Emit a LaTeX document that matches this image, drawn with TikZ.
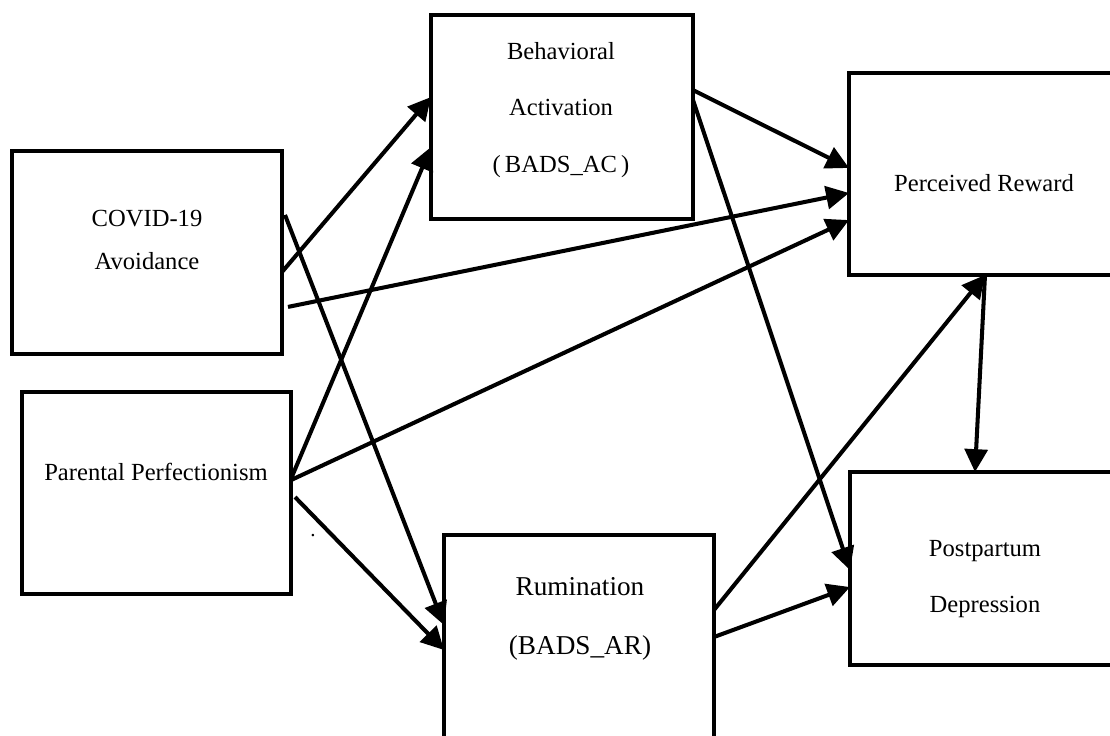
\documentclass[tikz,border=0pt]{standalone}
\usepackage{fontspec}
\setmainfont{Liberation Serif}
\usetikzlibrary{arrows.meta,calc}
\begin{document}
\begin{tikzpicture}[x=0.02cm,y=-0.02cm,
  box/.style={draw,line width=2.7pt,inner sep=0pt,outer sep=0pt,rectangle},
  txt/.style={align=center,inner sep=0pt,font=\fontsize{14}{32}\selectfont},
  arr/.style={-{Triangle[length=13pt,width=13pt]},line width=2.3pt}]
\fill[white] (0,0) rectangle (1110,735);
\useasboundingbox (0,0) rectangle (1110,735);
\clip (0,0) rectangle (1110,735);
% boxes
\node[box,minimum width={270*0.02cm},minimum height={203*0.02cm}] (cov) at (147,252.5) {};
\node[box,minimum width={269*0.02cm},minimum height={202*0.02cm}] (par) at (156.5,493) {};
\node[box,minimum width={262*0.02cm},minimum height={204*0.02cm}] (ba) at (562,117) {};
\node[box,minimum width={272*0.02cm},minimum height={202*0.02cm}] (pr) at (985,174) {};
\node[box,minimum width={270*0.02cm},minimum height={193*0.02cm}] (pd) at (985,568.5) {};
\node[box,minimum width={270*0.02cm},minimum height={210*0.02cm}] (rum) at (579,640) {};
% texts
\node[txt,font=\fontsize{14}{24}\selectfont] (covt) at (147,240) {COVID-19\\Avoidance};
\node[txt] (part) at (156,472) {Parental Perfectionism};
\node[txt] (bat) at (561,110) {Behavioral\\Activation\\(\,BADS\_AC\,)};
\node[txt] (prt) at (984,183) {Perceived Reward};
\node[txt] (pdt) at (985,579) {Postpartum\\Depression};
\node[txt,font=\fontsize{15.5}{33.5}\selectfont] (rumt) at (580,619) {Rumination\\(BADS\_AR)};
\node[inner sep=0pt,font=\fontsize{12}{12}\selectfont] (dot) at (313,536) {.};
% connectors
\draw[arr] ($(cov.north east)!0.596!(cov.south east)$) -- ($(ba.north west)!0.402!(ba.south west)$);
\draw[arr] ($(par.north east)!0.43!(par.south east)$) -- ($(ba.north west)!0.647!(ba.south west)$);
\draw[arr] ($(cov.north east)!0.315!(cov.south east)+(3,0)$) -- ($(rum.north west)+(0,90)$);
\draw[arr] ($(par.north east)!0.52!(par.south east)+(4,0)$) -- ($(rum.north west)+(0,115)$);
\draw[arr] ($(cov.north east)!0.768!(cov.south east)+(6,0)$) -- ($(pr.north west)!0.594!(pr.south west)$);
\draw[arr] ($(par.north east)!0.436!(par.south east)$) -- ($(pr.north west)!0.728!(pr.south west)$);
\draw[arr] ($(ba.north east)!0.368!(ba.south east)$) -- ($(pr.north west)!0.47!(pr.south west)$);
\draw[arr] ($(ba.north east)!0.417!(ba.south east)$) -- ($(pd.north west)!0.508!(pd.south west)$);
\draw[arr] ($(rum.north east)+(0,75)$) -- (pr.south);
\draw[arr] ($(rum.north east)+(0,102)$) -- ($(pd.north west)!0.596!(pd.south west)$);
\draw[arr] (pr.south) -- ($(pd.north)+(-10,0)$);
\end{tikzpicture}
\end{document}
